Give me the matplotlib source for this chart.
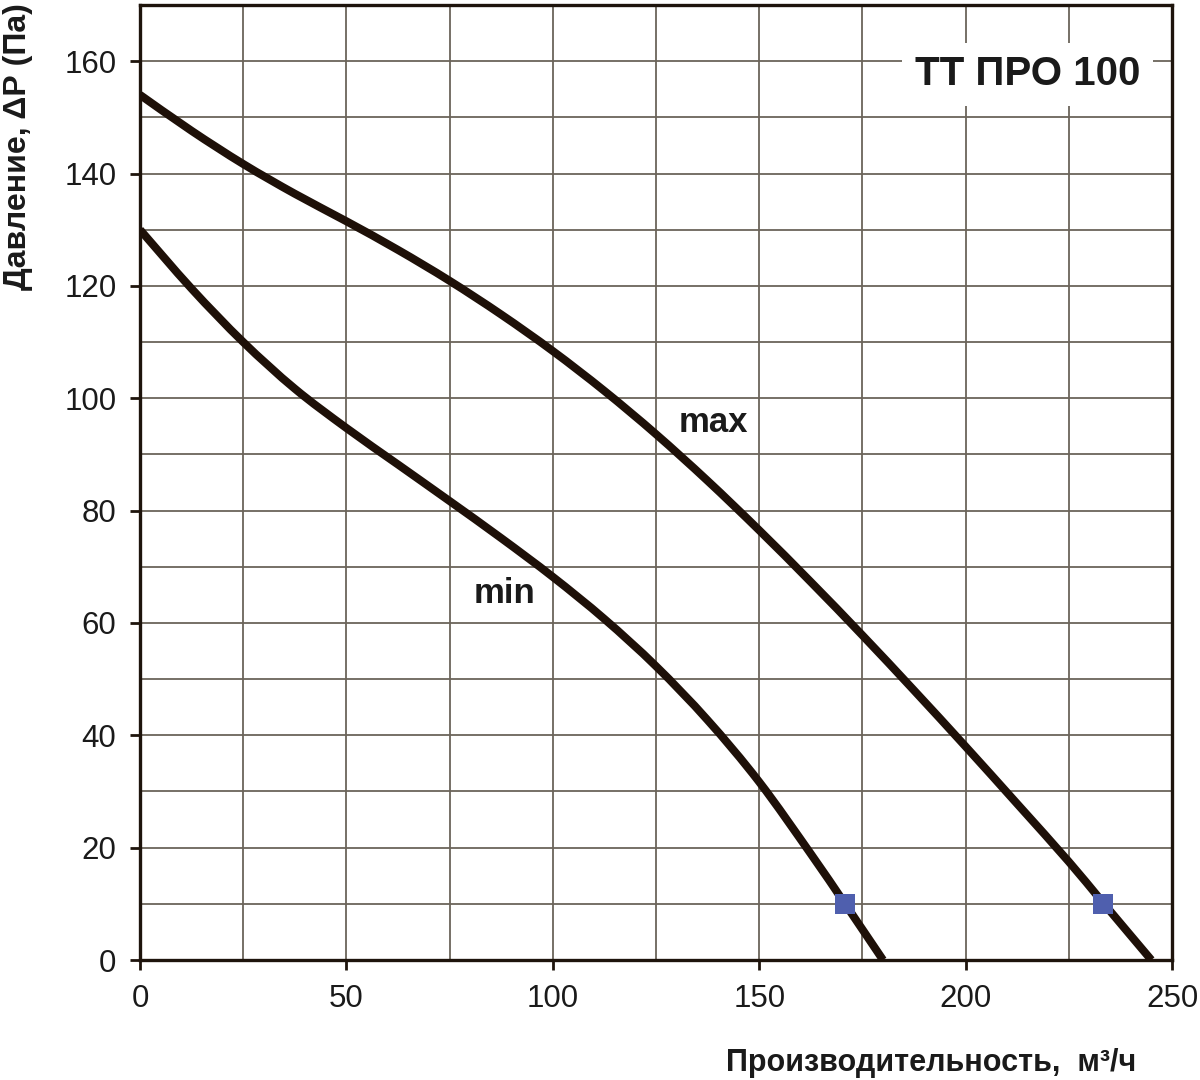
import matplotlib
matplotlib.use("Agg")
import matplotlib.pyplot as plt
from matplotlib.ticker import MultipleLocator
from matplotlib.path import Path
from matplotlib.patches import PathPatch

plt.rcParams['font.family'] = ['Liberation Sans', 'DejaVu Sans']

# Data
max_flow = [0, 12.5, 25, 37.5, 50, 62.5, 75, 87.5, 100, 112.5, 125, 137.5,
            150, 162.5, 175, 187.5, 200, 212.5, 225, 233.3, 245]
max_pressure = [154, 147.6, 141.7, 136.4, 131.5, 126.4, 120.9, 114.9, 108.4, 101.3, 93.6, 85.3,
                76.5, 67.3, 57.8, 48.0, 38.0, 27.8, 17.5, 10.2, 0]

min_flow = [0, 12.5, 25, 37.5, 50, 62.5, 75, 87.5, 100, 112.5, 125, 137.5,
            150, 162.5, 170.8, 180]
min_pressure = [130, 119.5, 110.0, 101.7, 94.7, 88.2, 81.7, 75.1, 68.2, 60.7, 52.3, 42.7,
                31.7, 18.9, 10.0, 0]

marker_flow = [170.8, 233.3]
marker_pressure = [10, 10]

x_ticks = [0, 50, 100, 150, 200, 250]
y_ticks = [0, 20, 40, 60, 80, 100, 120, 140, 160]

title = "ТТ ПРО 100"
xlabel = "Производительность,  м³/ч"
ylabel = "Давление, ΔР (Па)"


def smooth_path(xs, ys):
    """Catmull-Rom style Bezier path through the given points."""
    pts = list(zip(xs, ys))
    n = len(pts)
    verts = [pts[0]]
    codes = [Path.MOVETO]
    for i in range(n - 1):
        p0 = pts[i - 1] if i > 0 else pts[i]
        p1 = pts[i]
        p2 = pts[i + 1]
        p3 = pts[i + 2] if i + 2 < n else pts[i + 1]
        c1 = (p1[0] + (p2[0] - p0[0]) / 6.0, p1[1] + (p2[1] - p0[1]) / 6.0)
        c2 = (p2[0] - (p3[0] - p1[0]) / 6.0, p2[1] - (p3[1] - p1[1]) / 6.0)
        verts += [c1, c2, p2]
        codes += [Path.CURVE4, Path.CURVE4, Path.CURVE4]
    return Path(verts, codes)


fig = plt.figure(figsize=(12, 10.8), dpi=100)
ax = fig.add_axes([140/1200, 1-960/1080, (1172-140)/1200, (960-5)/1080])

ax.set_xlim(0, 250)
ax.set_ylim(0, 170)
ax.set_xticks(x_ticks)
ax.set_yticks(y_ticks)
ax.xaxis.set_minor_locator(MultipleLocator(25))
ax.yaxis.set_minor_locator(MultipleLocator(10))
ax.grid(True, which='both', color='#6b645a', linewidth=1.3, zorder=0)
ax.set_axisbelow(True)
ax.tick_params(which='major', direction='out', length=7, width=2, color='#1e140c',
               labelsize=22.5, pad=10, labelcolor='#1a1a1a')
ax.tick_params(which='minor', length=0)
for s in ax.spines.values():
    s.set_linewidth(2.4)
    s.set_color('#1e140c')

line_color = '#1e1008'
for xs, ys in [(max_flow, max_pressure), (min_flow, min_pressure)]:
    ax.add_patch(PathPatch(smooth_path(xs, ys), facecolor='none', edgecolor=line_color,
                           lw=5.8, capstyle='butt', zorder=3))
ax.plot(marker_flow, marker_pressure, 's', color='#4f5fae', markersize=14, zorder=4,
        markeredgewidth=0, clip_on=False)

ax.text(139, 95.6, "max", fontsize=25, fontweight='bold', color='#1a1a1a', va='center', ha='center')
ax.text(88.4, 65.2, "min", fontsize=25, fontweight='bold', color='#1a1a1a', va='center', ha='center')

ax.text(215, 157.7, title, fontsize=29, fontweight='bold', color='#1a1a1a', ha='center', va='center',
        bbox=dict(facecolor='white', edgecolor='none', pad=9), zorder=5)

fig.text(931/1200, 1-1063/1080, xlabel, fontsize=22, fontweight='bold', color='#1a1a1a',
         ha='center', va='center')
fig.text(18/1200, 1-147/1080, ylabel, fontsize=23, fontweight='bold', color='#1a1a1a',
         ha='center', va='center', rotation=90)

fig.savefig("out.png", dpi=100)
